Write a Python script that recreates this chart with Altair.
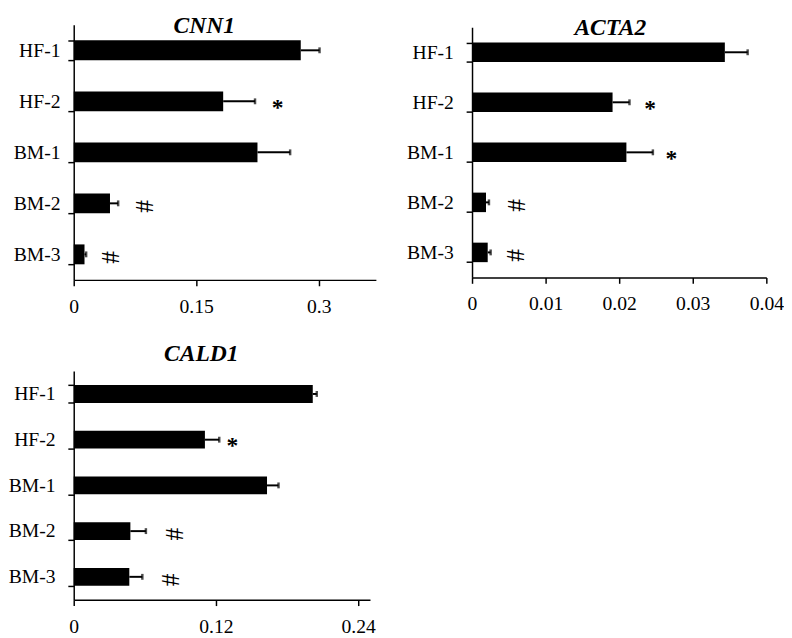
import altair as alt
import pandas as pd

samples = ["HF-1", "HF-2", "BM-1", "BM-2", "BM-3"]

# CNN1
cnn1_mean = [0.278, 0.183, 0.225, 0.0444, 0.0132]
cnn1_err = [0.023, 0.039, 0.040, 0.010, 0.002]
cnn1_mark = ["", "*", "", "#", "#"]
cnn1_mark_x = [None, 0.2496, None, 0.086, 0.0444]
cnn1_ticks = [0, 0.15, 0.3]

# ACTA2
acta2_mean = [0.03436, 0.0191, 0.02098, 0.0019, 0.00213]
acta2_err = [0.0031, 0.0023, 0.0036, 0.0004, 0.0004]
acta2_mark = ["", "*", "*", "#", "#"]
acta2_mark_x = [None, 0.02422, 0.0271, 0.0060, 0.00577]
acta2_ticks = [0, 0.01, 0.02, 0.03, 0.04]

# CALD1
cald1_mean = [0.2017, 0.1107, 0.1631, 0.0478, 0.0469]
cald1_err = [0.0034, 0.0121, 0.0097, 0.0131, 0.0110]
cald1_mark = ["", "*", "", "#", "#"]
cald1_mark_x = [None, 0.1339, None, 0.0842, 0.0809]
cald1_ticks = [0, 0.12, 0.24]

SERIF = "Liberation Serif"


def panel(gene, mean, err, marks, mark_x, ticks, xmax, width, height,
          label_pad, title_dx, title_offset):
    df = pd.DataFrame({
        "sample": samples,
        "mean": mean,
        "hi": [m + e for m, e in zip(mean, err)],
    })
    ann = pd.DataFrame({"sample": samples, "mark": marks, "mx": mark_x})
    star = ann[ann["mark"] == "*"]
    sharp = ann[ann["mark"] == "#"]

    yscale = alt.Scale(paddingInner=0.61, paddingOuter=0.305)
    ybar = alt.Y("sample:N", sort=samples, title=None, scale=yscale,
                 axis=alt.Axis(tickBand="extent", labelPadding=label_pad,
                               labelFontSize=20, labelFont=SERIF,
                               labelColor="black", tickSize=6, tickWidth=1.5,
                               tickColor="black", domainColor="black",
                               domainWidth=1.5, grid=False))
    yplain = alt.Y("sample:N", sort=samples, scale=yscale)
    xscale = alt.Scale(domain=[0, xmax], nice=False, zero=True)

    bars = alt.Chart(df).mark_bar(color="black").encode(
        x=alt.X("mean:Q", scale=xscale, title=None,
                axis=alt.Axis(values=ticks, format="~g", labelFontSize=20,
                              labelFont=SERIF, labelColor="black",
                              labelPadding=11, tickSize=6, tickWidth=1.5,
                              tickColor="black", domainColor="black",
                              domainWidth=1.5, grid=False, labelFlush=False)),
        y=ybar,
    )
    whisk = alt.Chart(df).mark_rule(color="black", strokeWidth=2).encode(
        x=alt.X("mean:Q", scale=xscale), x2="hi:Q", y=yplain)
    cap = alt.Chart(df).mark_tick(color="black", thickness=2.5, size=6).encode(
        x=alt.X("hi:Q", scale=xscale), y=yplain)
    t_star = alt.Chart(star).mark_text(
        font=SERIF, fontSize=24, fontWeight="bold", color="black",
        baseline="middle", align="center", dy=7).encode(
        x=alt.X("mx:Q", scale=xscale), y=yplain, text="mark:N")
    t_sharp = alt.Chart(sharp).mark_text(
        font=SERIF, fontSize=26, color="black", angle=90,
        baseline="middle", align="center", dx=3).encode(
        x=alt.X("mx:Q", scale=xscale), y=yplain, text="mark:N")

    return alt.layer(bars, whisk, cap, t_star, t_sharp).properties(
        width=width, height=height,
        title=alt.TitleParams(text=gene, font=SERIF, fontSize=24,
                              fontStyle="italic", fontWeight="bold",
                              color="black", anchor="middle", frame="group",
                              dx=title_dx, offset=title_offset),
    )


cnn1 = panel("CNN1", cnn1_mean, cnn1_err, cnn1_mark, cnn1_mark_x, cnn1_ticks,
             0.37, 308, 260, 8, -21, -23)
acta2 = panel("ACTA2", acta2_mean, acta2_err, acta2_mark, acta2_mark_x,
              acta2_ticks, 0.04, 300, 255, 13, -9, -23)
cald1 = panel("CALD1", cald1_mean, cald1_err, cald1_mark, cald1_mark_x,
              cald1_ticks, 0.25, 302, 233, 13, -21, -5)

top = alt.hconcat(cnn1, acta2, spacing=31, center=True)
chart = alt.vconcat(top, cald1, spacing=27).properties(
    padding=0
).configure_view(stroke=None)

chart.save("out.html", embed_options={"renderer": "svg", "actions": False})
